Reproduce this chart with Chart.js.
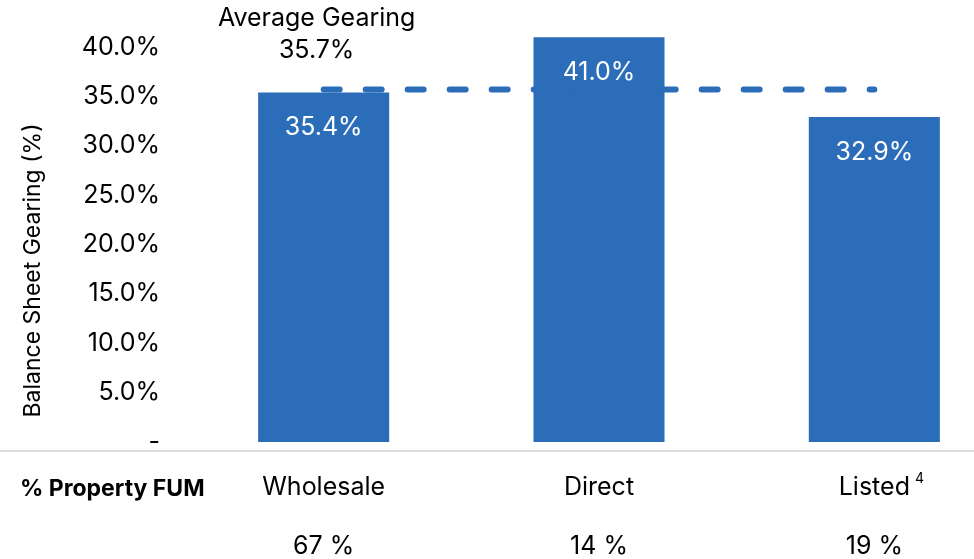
<!DOCTYPE html>
<html>
<head>
<meta charset="utf-8">
<script src="https://cdn.jsdelivr.net/npm/chart.js@4.4.1/dist/chart.umd.min.js"></script>
<style>
  html, body { margin: 0; padding: 0; background: #fff; }
  #wrap { width: 974px; height: 559px; overflow: hidden; position: relative; }
  #box { width: 1012px; height: 559px; position: absolute; left: 0; top: 0; }
</style>
</head>
<body>
<div id="wrap"><div id="box"><canvas id="gearing_canvas"></canvas></div></div>
<script>
// gearing by fund type
var categories = ['Wholesale', 'Direct', 'Listed'];
var fumShare = ['67 %', '14 %', '19 %'];
var gearing = [35.4, 41.0, 32.9];
var averageGearing = 35.7;
var yTicks = [0, 5, 10, 15, 20, 25, 30, 35, 40];

var blue = '#2c6dba';
var font = 'Inter, "Liberation Sans", Arial, sans-serif';

var xLabels = categories.map(function(c, i) { return [c, fumShare[i]]; });
var avgLine = categories.map(function() { return averageGearing; });

// extra text: bar values, average label, row header, separator, axis title
var extras = {
  id: 'extras',
  afterDatasetsDraw: function(chart) {
    var ctx = chart.ctx;
    var area = chart.chartArea;
    ctx.save();

    // values inside the bars
    var bars = chart.getDatasetMeta(0).data;
    ctx.font = '25px ' + font;
    ctx.fillStyle = '#fff';
    ctx.textAlign = 'center';
    ctx.textBaseline = 'middle';
    bars.forEach(function(bar, i) {
      ctx.fillText(gearing[i].toFixed(1) + '%', bar.x, bar.y + 35);
    });

    // average label above the start of the dashed line
    var p0 = chart.getDatasetMeta(1).data[0];
    ctx.fillStyle = '#000';
    ctx.fillText('Average Gearing', p0.x - 7, p0.y - 71);
    ctx.fillText(averageGearing.toFixed(1) + '%', p0.x - 7, p0.y - 39);

    // separator under the plot
    ctx.strokeStyle = '#dcdcdc';
    ctx.lineWidth = 2;
    ctx.beginPath();
    ctx.moveTo(0, area.bottom + 9);
    ctx.lineTo(chart.width, area.bottom + 9);
    ctx.stroke();

    // row header
    var rowY = area.bottom + 16 + 29.5;
    ctx.font = 'bold 23px ' + font;
    ctx.textAlign = 'left';
    ctx.fillText('% Property FUM', 20, rowY + 2);

    // footnote marker on Listed
    var xs = chart.scales.x;
    ctx.font = '25px ' + font;
    var w = ctx.measureText(categories[2]).width;
    ctx.font = '14px ' + font;
    ctx.fillText('4', xs.getPixelForValue(2) + w / 2 + 5, rowY - 9);

    // y axis title
    ctx.font = '23px ' + font;
    ctx.textAlign = 'center';
    ctx.translate(33, (area.top + area.bottom) / 2 + 26);
    ctx.rotate(-Math.PI / 2);
    ctx.fillText('Balance Sheet Gearing (%)', 0, 0);
    ctx.restore();
  }
};

var ctx = document.getElementById('gearing_canvas').getContext('2d');
var gearingChart = new Chart(ctx, {
  data: {
    labels: xLabels,
    datasets: [
      {
        type: 'bar',
        label: 'Balance Sheet Gearing',
        data: gearing,
        backgroundColor: blue,
        categoryPercentage: 1,
        barPercentage: 0.476,
        clip: false,
        order: 2
      },
      {
        type: 'line',
        label: 'Average Gearing',
        data: avgLine,
        borderColor: blue,
        borderWidth: 6,
        borderDash: [16, 26],
        borderCapStyle: 'round',
        pointRadius: 0,
        fill: false,
        clip: false,
        order: 1
      }
    ]
  },
  options: {
    responsive: true,
    maintainAspectRatio: false,
    animation: false,
    layout: { padding: { top: 47, left: 0, right: 0, bottom: 0 } },
    plugins: {
      legend: { display: false },
      tooltip: { enabled: false }
    },
    scales: {
      x: {
        grid: { display: false, drawTicks: false },
        border: { display: false },
        afterFit: function(scale) { scale.height = 117; },
        ticks: {
          padding: 16,
          color: '#000',
          maxRotation: 0,
          font: { family: font, size: 25, lineHeight: 59 / 25 }
        }
      },
      y: {
        min: 0,
        max: 40,
        grid: { display: false, drawTicks: false },
        border: { display: false },
        afterFit: function(scale) { scale.width = 186; },
        afterBuildTicks: function(scale) {
          scale.ticks = yTicks.map(function(v) { return { value: v }; });
        },
        ticks: {
          padding: 26,
          color: '#000',
          font: { family: font, size: 25 },
          callback: function(v) { return v === 0 ? '-' : v.toFixed(1) + '%'; }
        }
      }
    }
  },
  plugins: [extras]
});
</script>
</body>
</html>
